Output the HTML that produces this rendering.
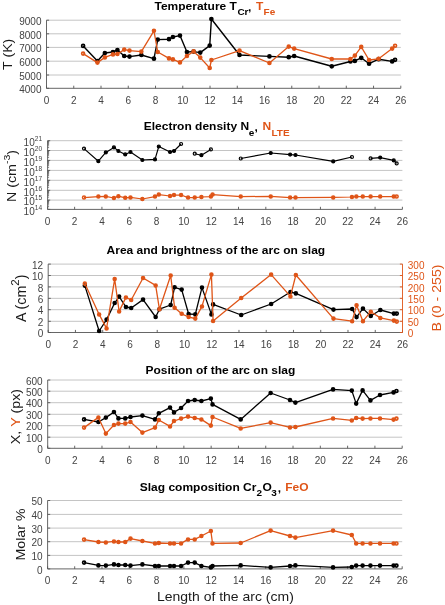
<!DOCTYPE html>
<html><head><meta charset="utf-8"><style>
html,body{margin:0;padding:0;background:#fff;}
svg{display:block;filter:blur(0.5px);}
text{font-family:"Liberation Sans",sans-serif;}
.tk{font-size:10px;fill:#444444;}
.sup{font-size:6.6px;}
.sup2{font-size:10.5px;}
.ti{font-size:12px;font-weight:bold;fill:#000;}
.sub{font-size:10px;}
.yl{font-size:14.2px;fill:#1a1a1a;}
</style></head><body>
<svg width="445" height="605" viewBox="0 0 445 605">
<rect width="445" height="605" fill="#fff"/>
<line x1="46.50" y1="75.00" x2="400.80" y2="75.00" stroke="#c4c4c4" stroke-width="1"/>
<line x1="46.50" y1="61.20" x2="400.80" y2="61.20" stroke="#c4c4c4" stroke-width="1"/>
<line x1="46.50" y1="47.40" x2="400.80" y2="47.40" stroke="#c4c4c4" stroke-width="1"/>
<line x1="46.50" y1="33.80" x2="400.80" y2="33.80" stroke="#c4c4c4" stroke-width="1"/>
<line x1="46.50" y1="20.20" x2="400.80" y2="20.20" stroke="#c4c4c4" stroke-width="1"/>
<line x1="46.50" y1="88.30" x2="400.80" y2="88.30" stroke="#555555" stroke-width="0.9"/>
<line x1="46.50" y1="88.30" x2="46.50" y2="20.20" stroke="#555555" stroke-width="0.9"/>
<line x1="46.50" y1="88.30" x2="46.50" y2="85.70" stroke="#555555" stroke-width="0.9"/>
<text x="46.50" y="103.60" class="tk" text-anchor="middle">0</text>
<line x1="73.75" y1="88.30" x2="73.75" y2="85.70" stroke="#555555" stroke-width="0.9"/>
<text x="73.75" y="103.60" class="tk" text-anchor="middle">2</text>
<line x1="101.01" y1="88.30" x2="101.01" y2="85.70" stroke="#555555" stroke-width="0.9"/>
<text x="101.01" y="103.60" class="tk" text-anchor="middle">4</text>
<line x1="128.26" y1="88.30" x2="128.26" y2="85.70" stroke="#555555" stroke-width="0.9"/>
<text x="128.26" y="103.60" class="tk" text-anchor="middle">6</text>
<line x1="155.52" y1="88.30" x2="155.52" y2="85.70" stroke="#555555" stroke-width="0.9"/>
<text x="155.52" y="103.60" class="tk" text-anchor="middle">8</text>
<line x1="182.77" y1="88.30" x2="182.77" y2="85.70" stroke="#555555" stroke-width="0.9"/>
<text x="182.77" y="103.60" class="tk" text-anchor="middle">10</text>
<line x1="210.02" y1="88.30" x2="210.02" y2="85.70" stroke="#555555" stroke-width="0.9"/>
<text x="210.02" y="103.60" class="tk" text-anchor="middle">12</text>
<line x1="237.28" y1="88.30" x2="237.28" y2="85.70" stroke="#555555" stroke-width="0.9"/>
<text x="237.28" y="103.60" class="tk" text-anchor="middle">14</text>
<line x1="264.53" y1="88.30" x2="264.53" y2="85.70" stroke="#555555" stroke-width="0.9"/>
<text x="264.53" y="103.60" class="tk" text-anchor="middle">16</text>
<line x1="291.78" y1="88.30" x2="291.78" y2="85.70" stroke="#555555" stroke-width="0.9"/>
<text x="291.78" y="103.60" class="tk" text-anchor="middle">18</text>
<line x1="319.04" y1="88.30" x2="319.04" y2="85.70" stroke="#555555" stroke-width="0.9"/>
<text x="319.04" y="103.60" class="tk" text-anchor="middle">20</text>
<line x1="346.29" y1="88.30" x2="346.29" y2="85.70" stroke="#555555" stroke-width="0.9"/>
<text x="346.29" y="103.60" class="tk" text-anchor="middle">22</text>
<line x1="373.55" y1="88.30" x2="373.55" y2="85.70" stroke="#555555" stroke-width="0.9"/>
<text x="373.55" y="103.60" class="tk" text-anchor="middle">24</text>
<line x1="400.80" y1="88.30" x2="400.80" y2="85.70" stroke="#555555" stroke-width="0.9"/>
<text x="400.80" y="103.60" class="tk" text-anchor="middle">26</text>
<line x1="46.50" y1="88.30" x2="49.10" y2="88.30" stroke="#555555" stroke-width="0.9"/>
<line x1="46.50" y1="75.00" x2="49.10" y2="75.00" stroke="#555555" stroke-width="0.9"/>
<line x1="46.50" y1="61.20" x2="49.10" y2="61.20" stroke="#555555" stroke-width="0.9"/>
<line x1="46.50" y1="47.40" x2="49.10" y2="47.40" stroke="#555555" stroke-width="0.9"/>
<line x1="46.50" y1="33.80" x2="49.10" y2="33.80" stroke="#555555" stroke-width="0.9"/>
<line x1="46.50" y1="20.20" x2="49.10" y2="20.20" stroke="#555555" stroke-width="0.9"/>
<text x="41.50" y="93.00" class="tk" text-anchor="end">4000</text>
<text x="41.50" y="79.70" class="tk" text-anchor="end">5000</text>
<text x="41.50" y="65.90" class="tk" text-anchor="end">6000</text>
<text x="41.50" y="52.10" class="tk" text-anchor="end">7000</text>
<text x="41.50" y="38.50" class="tk" text-anchor="end">8000</text>
<text x="41.50" y="24.90" class="tk" text-anchor="end">9000</text>
<path d="M83.12,45.90 L97.44,61.00 L104.87,53.00 L112.97,52.00 L117.43,50.00 L124.23,56.00 L129.49,56.60 L141.36,55.00 L153.95,58.70 L157.75,39.60 L168.98,39.20 L172.91,37.00 L179.97,35.60 L186.93,52.00 L193.60,51.60 L200.26,52.60 L209.72,45.60 L211.39,19.00 L239.51,55.00 L269.43,56.40 L288.75,57.20 L294.15,56.00 L331.77,66.30 L350.46,61.50 L354.86,60.90 L361.25,57.80 L369.08,63.70 L378.64,59.20 L392.17,61.40 L395.07,59.80" fill="none" stroke="#000000" stroke-width="1.4" stroke-linejoin="round"/>
<circle cx="83.12" cy="45.90" r="1.5" fill="none" stroke="#000000" stroke-width="1.7"/>
<circle cx="97.44" cy="61.00" r="1.5" fill="#000000" stroke="#000000" stroke-width="1.7"/>
<circle cx="104.87" cy="53.00" r="1.5" fill="#000000" stroke="#000000" stroke-width="1.7"/>
<circle cx="112.97" cy="52.00" r="1.5" fill="#000000" stroke="#000000" stroke-width="1.7"/>
<circle cx="117.43" cy="50.00" r="1.5" fill="#000000" stroke="#000000" stroke-width="1.7"/>
<circle cx="124.23" cy="56.00" r="1.5" fill="#000000" stroke="#000000" stroke-width="1.7"/>
<circle cx="129.49" cy="56.60" r="1.5" fill="#000000" stroke="#000000" stroke-width="1.7"/>
<circle cx="141.36" cy="55.00" r="1.5" fill="#000000" stroke="#000000" stroke-width="1.7"/>
<circle cx="153.95" cy="58.70" r="1.5" fill="#000000" stroke="#000000" stroke-width="1.7"/>
<circle cx="157.75" cy="39.60" r="1.5" fill="#000000" stroke="#000000" stroke-width="1.7"/>
<circle cx="168.98" cy="39.20" r="1.5" fill="#000000" stroke="#000000" stroke-width="1.7"/>
<circle cx="172.91" cy="37.00" r="1.5" fill="#000000" stroke="#000000" stroke-width="1.7"/>
<circle cx="179.97" cy="35.60" r="1.5" fill="#000000" stroke="#000000" stroke-width="1.7"/>
<circle cx="186.93" cy="52.00" r="1.5" fill="#000000" stroke="#000000" stroke-width="1.7"/>
<circle cx="193.60" cy="51.60" r="1.5" fill="#000000" stroke="#000000" stroke-width="1.7"/>
<circle cx="200.26" cy="52.60" r="1.5" fill="#000000" stroke="#000000" stroke-width="1.7"/>
<circle cx="209.72" cy="45.60" r="1.5" fill="#000000" stroke="#000000" stroke-width="1.7"/>
<circle cx="211.39" cy="19.00" r="1.5" fill="#000000" stroke="#000000" stroke-width="1.7"/>
<circle cx="239.51" cy="55.00" r="1.5" fill="#000000" stroke="#000000" stroke-width="1.7"/>
<circle cx="269.43" cy="56.40" r="1.5" fill="#000000" stroke="#000000" stroke-width="1.7"/>
<circle cx="288.75" cy="57.20" r="1.5" fill="#000000" stroke="#000000" stroke-width="1.7"/>
<circle cx="294.15" cy="56.00" r="1.5" fill="#000000" stroke="#000000" stroke-width="1.7"/>
<circle cx="331.77" cy="66.30" r="1.5" fill="#000000" stroke="#000000" stroke-width="1.7"/>
<circle cx="350.46" cy="61.50" r="1.5" fill="#000000" stroke="#000000" stroke-width="1.7"/>
<circle cx="354.86" cy="60.90" r="1.5" fill="#000000" stroke="#000000" stroke-width="1.7"/>
<circle cx="361.25" cy="57.80" r="1.5" fill="#000000" stroke="#000000" stroke-width="1.7"/>
<circle cx="369.08" cy="63.70" r="1.5" fill="#000000" stroke="#000000" stroke-width="1.7"/>
<circle cx="378.64" cy="59.20" r="1.5" fill="#000000" stroke="#000000" stroke-width="1.7"/>
<circle cx="392.17" cy="61.40" r="1.5" fill="#000000" stroke="#000000" stroke-width="1.7"/>
<circle cx="395.07" cy="59.80" r="1.5" fill="none" stroke="#000000" stroke-width="1.7"/>
<path d="M83.12,53.60 L97.44,62.60 L104.87,57.40 L112.97,54.40 L117.43,54.00 L124.23,49.60 L129.49,50.60 L141.36,51.60 L153.95,30.80 L157.75,52.00 L168.98,58.40 L172.91,59.40 L179.97,62.40 L186.93,56.00 L193.60,51.40 L200.26,57.60 L209.72,68.00 L211.39,60.00 L239.51,50.60 L269.43,63.00 L288.75,46.60 L294.15,48.60 L331.77,59.00 L350.46,59.00 L354.86,55.60 L361.25,46.90 L369.08,60.00 L378.64,58.80 L392.17,48.60 L395.07,45.80" fill="none" stroke="#DF5518" stroke-width="1.3" stroke-linejoin="round"/>
<circle cx="83.12" cy="53.60" r="1.5" fill="none" stroke="#DF5518" stroke-width="1.6"/>
<circle cx="97.44" cy="62.60" r="1.5" fill="#DF5518" stroke="#DF5518" stroke-width="1.6"/>
<circle cx="104.87" cy="57.40" r="1.5" fill="#DF5518" stroke="#DF5518" stroke-width="1.6"/>
<circle cx="112.97" cy="54.40" r="1.5" fill="#DF5518" stroke="#DF5518" stroke-width="1.6"/>
<circle cx="117.43" cy="54.00" r="1.5" fill="#DF5518" stroke="#DF5518" stroke-width="1.6"/>
<circle cx="124.23" cy="49.60" r="1.5" fill="#DF5518" stroke="#DF5518" stroke-width="1.6"/>
<circle cx="129.49" cy="50.60" r="1.5" fill="#DF5518" stroke="#DF5518" stroke-width="1.6"/>
<circle cx="141.36" cy="51.60" r="1.5" fill="#DF5518" stroke="#DF5518" stroke-width="1.6"/>
<circle cx="153.95" cy="30.80" r="1.5" fill="#DF5518" stroke="#DF5518" stroke-width="1.6"/>
<circle cx="157.75" cy="52.00" r="1.5" fill="#DF5518" stroke="#DF5518" stroke-width="1.6"/>
<circle cx="168.98" cy="58.40" r="1.5" fill="#DF5518" stroke="#DF5518" stroke-width="1.6"/>
<circle cx="172.91" cy="59.40" r="1.5" fill="#DF5518" stroke="#DF5518" stroke-width="1.6"/>
<circle cx="179.97" cy="62.40" r="1.5" fill="#DF5518" stroke="#DF5518" stroke-width="1.6"/>
<circle cx="186.93" cy="56.00" r="1.5" fill="#DF5518" stroke="#DF5518" stroke-width="1.6"/>
<circle cx="193.60" cy="51.40" r="1.5" fill="#DF5518" stroke="#DF5518" stroke-width="1.6"/>
<circle cx="200.26" cy="57.60" r="1.5" fill="#DF5518" stroke="#DF5518" stroke-width="1.6"/>
<circle cx="209.72" cy="68.00" r="1.5" fill="#DF5518" stroke="#DF5518" stroke-width="1.6"/>
<circle cx="211.39" cy="60.00" r="1.5" fill="#DF5518" stroke="#DF5518" stroke-width="1.6"/>
<circle cx="239.51" cy="50.60" r="1.5" fill="#DF5518" stroke="#DF5518" stroke-width="1.6"/>
<circle cx="269.43" cy="63.00" r="1.5" fill="#DF5518" stroke="#DF5518" stroke-width="1.6"/>
<circle cx="288.75" cy="46.60" r="1.5" fill="#DF5518" stroke="#DF5518" stroke-width="1.6"/>
<circle cx="294.15" cy="48.60" r="1.5" fill="#DF5518" stroke="#DF5518" stroke-width="1.6"/>
<circle cx="331.77" cy="59.00" r="1.5" fill="#DF5518" stroke="#DF5518" stroke-width="1.6"/>
<circle cx="350.46" cy="59.00" r="1.5" fill="#DF5518" stroke="#DF5518" stroke-width="1.6"/>
<circle cx="354.86" cy="55.60" r="1.5" fill="#DF5518" stroke="#DF5518" stroke-width="1.6"/>
<circle cx="361.25" cy="46.90" r="1.5" fill="#DF5518" stroke="#DF5518" stroke-width="1.6"/>
<circle cx="369.08" cy="60.00" r="1.5" fill="#DF5518" stroke="#DF5518" stroke-width="1.6"/>
<circle cx="378.64" cy="58.80" r="1.5" fill="#DF5518" stroke="#DF5518" stroke-width="1.6"/>
<circle cx="392.17" cy="48.60" r="1.5" fill="#DF5518" stroke="#DF5518" stroke-width="1.6"/>
<circle cx="395.07" cy="45.80" r="1.5" fill="none" stroke="#DF5518" stroke-width="1.6"/>
<text x="154.5" y="10.0" class="ti " transform="matrix(1,0,0,0.93,0,0.700)">Temperature T</text><text x="237.4" y="15.5" class="ti sub" transform="matrix(1,0,0,0.93,0,1.085)">Cr</text><text x="248.0" y="10.6" class="ti " transform="matrix(1,0,0,0.93,0,0.742)">,</text><text x="255.9" y="10.0" class="ti " style="fill:#DF5518" transform="matrix(1,0,0,0.93,0,0.700)">T</text><text x="263.6" y="15.5" class="ti sub" style="fill:#DF5518" transform="matrix(1,0,0,0.93,0,1.085)">Fe</text>
<text class="yl" transform="translate(12.2,69.9) rotate(-90) scale(1,0.95)">T (K)</text>
<line x1="47.60" y1="200.10" x2="402.40" y2="200.10" stroke="#c4c4c4" stroke-width="1"/>
<line x1="47.60" y1="190.30" x2="402.40" y2="190.30" stroke="#c4c4c4" stroke-width="1"/>
<line x1="47.60" y1="180.30" x2="402.40" y2="180.30" stroke="#c4c4c4" stroke-width="1"/>
<line x1="47.60" y1="170.40" x2="402.40" y2="170.40" stroke="#c4c4c4" stroke-width="1"/>
<line x1="47.60" y1="160.40" x2="402.40" y2="160.40" stroke="#c4c4c4" stroke-width="1"/>
<line x1="47.60" y1="150.50" x2="402.40" y2="150.50" stroke="#c4c4c4" stroke-width="1"/>
<line x1="47.60" y1="140.70" x2="402.40" y2="140.70" stroke="#c4c4c4" stroke-width="1"/>
<line x1="47.60" y1="209.40" x2="402.40" y2="209.40" stroke="#555555" stroke-width="0.9"/>
<line x1="47.60" y1="209.40" x2="47.60" y2="140.70" stroke="#555555" stroke-width="0.9"/>
<line x1="47.60" y1="209.40" x2="47.60" y2="206.80" stroke="#555555" stroke-width="0.9"/>
<text x="47.60" y="224.70" class="tk" text-anchor="middle">0</text>
<line x1="74.62" y1="209.40" x2="74.62" y2="206.80" stroke="#555555" stroke-width="0.9"/>
<text x="74.62" y="224.70" class="tk" text-anchor="middle">2</text>
<line x1="101.93" y1="209.40" x2="101.93" y2="206.80" stroke="#555555" stroke-width="0.9"/>
<text x="101.93" y="224.70" class="tk" text-anchor="middle">4</text>
<line x1="129.25" y1="209.40" x2="129.25" y2="206.80" stroke="#555555" stroke-width="0.9"/>
<text x="129.25" y="224.70" class="tk" text-anchor="middle">6</text>
<line x1="156.56" y1="209.40" x2="156.56" y2="206.80" stroke="#555555" stroke-width="0.9"/>
<text x="156.56" y="224.70" class="tk" text-anchor="middle">8</text>
<line x1="183.88" y1="209.40" x2="183.88" y2="206.80" stroke="#555555" stroke-width="0.9"/>
<text x="183.88" y="224.70" class="tk" text-anchor="middle">10</text>
<line x1="211.19" y1="209.40" x2="211.19" y2="206.80" stroke="#555555" stroke-width="0.9"/>
<text x="211.19" y="224.70" class="tk" text-anchor="middle">12</text>
<line x1="238.51" y1="209.40" x2="238.51" y2="206.80" stroke="#555555" stroke-width="0.9"/>
<text x="238.51" y="224.70" class="tk" text-anchor="middle">14</text>
<line x1="265.82" y1="209.40" x2="265.82" y2="206.80" stroke="#555555" stroke-width="0.9"/>
<text x="265.82" y="224.70" class="tk" text-anchor="middle">16</text>
<line x1="293.14" y1="209.40" x2="293.14" y2="206.80" stroke="#555555" stroke-width="0.9"/>
<text x="293.14" y="224.70" class="tk" text-anchor="middle">18</text>
<line x1="320.45" y1="209.40" x2="320.45" y2="206.80" stroke="#555555" stroke-width="0.9"/>
<text x="320.45" y="224.70" class="tk" text-anchor="middle">20</text>
<line x1="347.77" y1="209.40" x2="347.77" y2="206.80" stroke="#555555" stroke-width="0.9"/>
<text x="347.77" y="224.70" class="tk" text-anchor="middle">22</text>
<line x1="375.08" y1="209.40" x2="375.08" y2="206.80" stroke="#555555" stroke-width="0.9"/>
<text x="375.08" y="224.70" class="tk" text-anchor="middle">24</text>
<line x1="402.40" y1="209.40" x2="402.40" y2="206.80" stroke="#555555" stroke-width="0.9"/>
<text x="402.40" y="224.70" class="tk" text-anchor="middle">26</text>
<line x1="47.60" y1="209.40" x2="50.20" y2="209.40" stroke="#555555" stroke-width="0.9"/>
<line x1="47.60" y1="200.10" x2="50.20" y2="200.10" stroke="#555555" stroke-width="0.9"/>
<line x1="47.60" y1="190.30" x2="50.20" y2="190.30" stroke="#555555" stroke-width="0.9"/>
<line x1="47.60" y1="180.30" x2="50.20" y2="180.30" stroke="#555555" stroke-width="0.9"/>
<line x1="47.60" y1="170.40" x2="50.20" y2="170.40" stroke="#555555" stroke-width="0.9"/>
<line x1="47.60" y1="160.40" x2="50.20" y2="160.40" stroke="#555555" stroke-width="0.9"/>
<line x1="47.60" y1="150.50" x2="50.20" y2="150.50" stroke="#555555" stroke-width="0.9"/>
<line x1="47.60" y1="140.70" x2="50.20" y2="140.70" stroke="#555555" stroke-width="0.9"/>
<line x1="47.60" y1="206.60" x2="49.10" y2="206.60" stroke="#555555" stroke-width="0.7"/>
<line x1="47.60" y1="204.96" x2="49.10" y2="204.96" stroke="#555555" stroke-width="0.7"/>
<line x1="47.60" y1="203.80" x2="49.10" y2="203.80" stroke="#555555" stroke-width="0.7"/>
<line x1="47.60" y1="202.90" x2="49.10" y2="202.90" stroke="#555555" stroke-width="0.7"/>
<line x1="47.60" y1="202.16" x2="49.10" y2="202.16" stroke="#555555" stroke-width="0.7"/>
<line x1="47.60" y1="201.54" x2="49.10" y2="201.54" stroke="#555555" stroke-width="0.7"/>
<line x1="47.60" y1="201.00" x2="49.10" y2="201.00" stroke="#555555" stroke-width="0.7"/>
<line x1="47.60" y1="200.53" x2="49.10" y2="200.53" stroke="#555555" stroke-width="0.7"/>
<line x1="47.60" y1="197.15" x2="49.10" y2="197.15" stroke="#555555" stroke-width="0.7"/>
<line x1="47.60" y1="195.42" x2="49.10" y2="195.42" stroke="#555555" stroke-width="0.7"/>
<line x1="47.60" y1="194.20" x2="49.10" y2="194.20" stroke="#555555" stroke-width="0.7"/>
<line x1="47.60" y1="193.25" x2="49.10" y2="193.25" stroke="#555555" stroke-width="0.7"/>
<line x1="47.60" y1="192.47" x2="49.10" y2="192.47" stroke="#555555" stroke-width="0.7"/>
<line x1="47.60" y1="191.82" x2="49.10" y2="191.82" stroke="#555555" stroke-width="0.7"/>
<line x1="47.60" y1="191.25" x2="49.10" y2="191.25" stroke="#555555" stroke-width="0.7"/>
<line x1="47.60" y1="190.75" x2="49.10" y2="190.75" stroke="#555555" stroke-width="0.7"/>
<line x1="47.60" y1="187.29" x2="49.10" y2="187.29" stroke="#555555" stroke-width="0.7"/>
<line x1="47.60" y1="185.53" x2="49.10" y2="185.53" stroke="#555555" stroke-width="0.7"/>
<line x1="47.60" y1="184.28" x2="49.10" y2="184.28" stroke="#555555" stroke-width="0.7"/>
<line x1="47.60" y1="183.31" x2="49.10" y2="183.31" stroke="#555555" stroke-width="0.7"/>
<line x1="47.60" y1="182.52" x2="49.10" y2="182.52" stroke="#555555" stroke-width="0.7"/>
<line x1="47.60" y1="181.85" x2="49.10" y2="181.85" stroke="#555555" stroke-width="0.7"/>
<line x1="47.60" y1="181.27" x2="49.10" y2="181.27" stroke="#555555" stroke-width="0.7"/>
<line x1="47.60" y1="180.76" x2="49.10" y2="180.76" stroke="#555555" stroke-width="0.7"/>
<line x1="47.60" y1="177.32" x2="49.10" y2="177.32" stroke="#555555" stroke-width="0.7"/>
<line x1="47.60" y1="175.58" x2="49.10" y2="175.58" stroke="#555555" stroke-width="0.7"/>
<line x1="47.60" y1="174.34" x2="49.10" y2="174.34" stroke="#555555" stroke-width="0.7"/>
<line x1="47.60" y1="173.38" x2="49.10" y2="173.38" stroke="#555555" stroke-width="0.7"/>
<line x1="47.60" y1="172.60" x2="49.10" y2="172.60" stroke="#555555" stroke-width="0.7"/>
<line x1="47.60" y1="171.93" x2="49.10" y2="171.93" stroke="#555555" stroke-width="0.7"/>
<line x1="47.60" y1="171.36" x2="49.10" y2="171.36" stroke="#555555" stroke-width="0.7"/>
<line x1="47.60" y1="170.85" x2="49.10" y2="170.85" stroke="#555555" stroke-width="0.7"/>
<line x1="47.60" y1="167.39" x2="49.10" y2="167.39" stroke="#555555" stroke-width="0.7"/>
<line x1="47.60" y1="165.63" x2="49.10" y2="165.63" stroke="#555555" stroke-width="0.7"/>
<line x1="47.60" y1="164.38" x2="49.10" y2="164.38" stroke="#555555" stroke-width="0.7"/>
<line x1="47.60" y1="163.41" x2="49.10" y2="163.41" stroke="#555555" stroke-width="0.7"/>
<line x1="47.60" y1="162.62" x2="49.10" y2="162.62" stroke="#555555" stroke-width="0.7"/>
<line x1="47.60" y1="161.95" x2="49.10" y2="161.95" stroke="#555555" stroke-width="0.7"/>
<line x1="47.60" y1="161.37" x2="49.10" y2="161.37" stroke="#555555" stroke-width="0.7"/>
<line x1="47.60" y1="160.86" x2="49.10" y2="160.86" stroke="#555555" stroke-width="0.7"/>
<line x1="47.60" y1="157.42" x2="49.10" y2="157.42" stroke="#555555" stroke-width="0.7"/>
<line x1="47.60" y1="155.68" x2="49.10" y2="155.68" stroke="#555555" stroke-width="0.7"/>
<line x1="47.60" y1="154.44" x2="49.10" y2="154.44" stroke="#555555" stroke-width="0.7"/>
<line x1="47.60" y1="153.48" x2="49.10" y2="153.48" stroke="#555555" stroke-width="0.7"/>
<line x1="47.60" y1="152.70" x2="49.10" y2="152.70" stroke="#555555" stroke-width="0.7"/>
<line x1="47.60" y1="152.03" x2="49.10" y2="152.03" stroke="#555555" stroke-width="0.7"/>
<line x1="47.60" y1="151.46" x2="49.10" y2="151.46" stroke="#555555" stroke-width="0.7"/>
<line x1="47.60" y1="150.95" x2="49.10" y2="150.95" stroke="#555555" stroke-width="0.7"/>
<line x1="47.60" y1="147.55" x2="49.10" y2="147.55" stroke="#555555" stroke-width="0.7"/>
<line x1="47.60" y1="145.82" x2="49.10" y2="145.82" stroke="#555555" stroke-width="0.7"/>
<line x1="47.60" y1="144.60" x2="49.10" y2="144.60" stroke="#555555" stroke-width="0.7"/>
<line x1="47.60" y1="143.65" x2="49.10" y2="143.65" stroke="#555555" stroke-width="0.7"/>
<line x1="47.60" y1="142.87" x2="49.10" y2="142.87" stroke="#555555" stroke-width="0.7"/>
<line x1="47.60" y1="142.22" x2="49.10" y2="142.22" stroke="#555555" stroke-width="0.7"/>
<line x1="47.60" y1="141.65" x2="49.10" y2="141.65" stroke="#555555" stroke-width="0.7"/>
<line x1="47.60" y1="141.15" x2="49.10" y2="141.15" stroke="#555555" stroke-width="0.7"/>
<text x="23.60" y="214.60" class="tk">10<tspan class="sup" dy="-5">14</tspan></text>
<text x="23.60" y="205.30" class="tk">10<tspan class="sup" dy="-5">15</tspan></text>
<text x="23.60" y="195.50" class="tk">10<tspan class="sup" dy="-5">16</tspan></text>
<text x="23.60" y="185.50" class="tk">10<tspan class="sup" dy="-5">17</tspan></text>
<text x="23.60" y="175.60" class="tk">10<tspan class="sup" dy="-5">18</tspan></text>
<text x="23.60" y="165.60" class="tk">10<tspan class="sup" dy="-5">19</tspan></text>
<text x="23.60" y="155.70" class="tk">10<tspan class="sup" dy="-5">20</tspan></text>
<text x="23.60" y="145.90" class="tk">10<tspan class="sup" dy="-5">21</tspan></text>
<path d="M84.00,148.60 L98.36,161.20 L105.80,152.40 L113.92,147.40 L118.39,151.00 L125.21,154.40 L130.48,152.00 L142.37,160.00 L154.99,159.40 L158.80,146.50 L170.05,152.00 L173.99,151.00 L181.07,144.00" fill="none" stroke="#000000" stroke-width="1.15" stroke-linejoin="round"/>
<path d="M194.73,153.70 L201.41,155.20 L210.89,149.40" fill="none" stroke="#000000" stroke-width="1.15" stroke-linejoin="round"/>
<path d="M240.75,158.50 L270.73,153.00 L290.10,154.60 L295.51,155.00 L333.21,161.40 L351.94,157.00" fill="none" stroke="#000000" stroke-width="1.15" stroke-linejoin="round"/>
<path d="M370.61,158.40 L380.19,157.60 L393.75,160.40 L396.66,163.40" fill="none" stroke="#000000" stroke-width="1.15" stroke-linejoin="round"/>
<circle cx="84.00" cy="148.60" r="1.5" fill="none" stroke="#000000" stroke-width="1.2"/>
<circle cx="98.36" cy="161.20" r="1.5" fill="#000000" stroke="#000000" stroke-width="1.2"/>
<circle cx="105.80" cy="152.40" r="1.5" fill="#000000" stroke="#000000" stroke-width="1.2"/>
<circle cx="113.92" cy="147.40" r="1.5" fill="#000000" stroke="#000000" stroke-width="1.2"/>
<circle cx="118.39" cy="151.00" r="1.5" fill="#000000" stroke="#000000" stroke-width="1.2"/>
<circle cx="125.21" cy="154.40" r="1.5" fill="#000000" stroke="#000000" stroke-width="1.2"/>
<circle cx="130.48" cy="152.00" r="1.5" fill="#000000" stroke="#000000" stroke-width="1.2"/>
<circle cx="142.37" cy="160.00" r="1.5" fill="#000000" stroke="#000000" stroke-width="1.2"/>
<circle cx="154.99" cy="159.40" r="1.5" fill="#000000" stroke="#000000" stroke-width="1.2"/>
<circle cx="158.80" cy="146.50" r="1.5" fill="#000000" stroke="#000000" stroke-width="1.2"/>
<circle cx="170.05" cy="152.00" r="1.5" fill="#000000" stroke="#000000" stroke-width="1.2"/>
<circle cx="173.99" cy="151.00" r="1.5" fill="#000000" stroke="#000000" stroke-width="1.2"/>
<circle cx="181.07" cy="144.00" r="1.5" fill="none" stroke="#000000" stroke-width="1.2"/>
<circle cx="194.73" cy="153.70" r="1.5" fill="none" stroke="#000000" stroke-width="1.2"/>
<circle cx="201.41" cy="155.20" r="1.5" fill="#000000" stroke="#000000" stroke-width="1.2"/>
<circle cx="210.89" cy="149.40" r="1.5" fill="none" stroke="#000000" stroke-width="1.2"/>
<circle cx="240.75" cy="158.50" r="1.5" fill="none" stroke="#000000" stroke-width="1.2"/>
<circle cx="270.73" cy="153.00" r="1.5" fill="#000000" stroke="#000000" stroke-width="1.2"/>
<circle cx="290.10" cy="154.60" r="1.5" fill="#000000" stroke="#000000" stroke-width="1.2"/>
<circle cx="295.51" cy="155.00" r="1.5" fill="#000000" stroke="#000000" stroke-width="1.2"/>
<circle cx="333.21" cy="161.40" r="1.5" fill="#000000" stroke="#000000" stroke-width="1.2"/>
<circle cx="351.94" cy="157.00" r="1.5" fill="none" stroke="#000000" stroke-width="1.2"/>
<circle cx="370.61" cy="158.40" r="1.5" fill="none" stroke="#000000" stroke-width="1.2"/>
<circle cx="380.19" cy="157.60" r="1.5" fill="#000000" stroke="#000000" stroke-width="1.2"/>
<circle cx="393.75" cy="160.40" r="1.5" fill="#000000" stroke="#000000" stroke-width="1.2"/>
<circle cx="396.66" cy="163.40" r="1.5" fill="none" stroke="#000000" stroke-width="1.2"/>
<path d="M84.00,197.60 L98.36,196.60 L105.80,196.40 L113.92,198.00 L118.39,196.20 L125.21,197.80 L130.48,197.40 L142.37,199.00 L154.99,196.60 L158.80,194.60 L170.05,196.00 L173.99,195.00 L181.07,195.00 L188.05,197.60 L194.73,197.60 L201.41,197.00 L210.89,196.60 L212.56,194.60 L240.75,196.60 L270.73,196.40 L290.10,197.60 L295.51,197.60 L333.21,197.40 L351.94,197.00 L356.35,196.60 L362.76,196.60 L370.61,196.60 L380.19,196.60 L393.75,196.60 L396.66,196.60" fill="none" stroke="#DF5518" stroke-width="1.25" stroke-linejoin="round"/>
<circle cx="84.00" cy="197.60" r="1.5" fill="none" stroke="#DF5518" stroke-width="1.5"/>
<circle cx="98.36" cy="196.60" r="1.5" fill="#DF5518" stroke="#DF5518" stroke-width="1.5"/>
<circle cx="105.80" cy="196.40" r="1.5" fill="#DF5518" stroke="#DF5518" stroke-width="1.5"/>
<circle cx="113.92" cy="198.00" r="1.5" fill="#DF5518" stroke="#DF5518" stroke-width="1.5"/>
<circle cx="118.39" cy="196.20" r="1.5" fill="#DF5518" stroke="#DF5518" stroke-width="1.5"/>
<circle cx="125.21" cy="197.80" r="1.5" fill="#DF5518" stroke="#DF5518" stroke-width="1.5"/>
<circle cx="130.48" cy="197.40" r="1.5" fill="#DF5518" stroke="#DF5518" stroke-width="1.5"/>
<circle cx="142.37" cy="199.00" r="1.5" fill="#DF5518" stroke="#DF5518" stroke-width="1.5"/>
<circle cx="154.99" cy="196.60" r="1.5" fill="#DF5518" stroke="#DF5518" stroke-width="1.5"/>
<circle cx="158.80" cy="194.60" r="1.5" fill="#DF5518" stroke="#DF5518" stroke-width="1.5"/>
<circle cx="170.05" cy="196.00" r="1.5" fill="#DF5518" stroke="#DF5518" stroke-width="1.5"/>
<circle cx="173.99" cy="195.00" r="1.5" fill="#DF5518" stroke="#DF5518" stroke-width="1.5"/>
<circle cx="181.07" cy="195.00" r="1.5" fill="#DF5518" stroke="#DF5518" stroke-width="1.5"/>
<circle cx="188.05" cy="197.60" r="1.5" fill="#DF5518" stroke="#DF5518" stroke-width="1.5"/>
<circle cx="194.73" cy="197.60" r="1.5" fill="#DF5518" stroke="#DF5518" stroke-width="1.5"/>
<circle cx="201.41" cy="197.00" r="1.5" fill="#DF5518" stroke="#DF5518" stroke-width="1.5"/>
<circle cx="210.89" cy="196.60" r="1.5" fill="#DF5518" stroke="#DF5518" stroke-width="1.5"/>
<circle cx="212.56" cy="194.60" r="1.5" fill="#DF5518" stroke="#DF5518" stroke-width="1.5"/>
<circle cx="240.75" cy="196.60" r="1.5" fill="#DF5518" stroke="#DF5518" stroke-width="1.5"/>
<circle cx="270.73" cy="196.40" r="1.5" fill="#DF5518" stroke="#DF5518" stroke-width="1.5"/>
<circle cx="290.10" cy="197.60" r="1.5" fill="#DF5518" stroke="#DF5518" stroke-width="1.5"/>
<circle cx="295.51" cy="197.60" r="1.5" fill="#DF5518" stroke="#DF5518" stroke-width="1.5"/>
<circle cx="333.21" cy="197.40" r="1.5" fill="#DF5518" stroke="#DF5518" stroke-width="1.5"/>
<circle cx="351.94" cy="197.00" r="1.5" fill="#DF5518" stroke="#DF5518" stroke-width="1.5"/>
<circle cx="356.35" cy="196.60" r="1.5" fill="#DF5518" stroke="#DF5518" stroke-width="1.5"/>
<circle cx="362.76" cy="196.60" r="1.5" fill="#DF5518" stroke="#DF5518" stroke-width="1.5"/>
<circle cx="370.61" cy="196.60" r="1.5" fill="#DF5518" stroke="#DF5518" stroke-width="1.5"/>
<circle cx="380.19" cy="196.60" r="1.5" fill="#DF5518" stroke="#DF5518" stroke-width="1.5"/>
<circle cx="393.75" cy="196.60" r="1.5" fill="#DF5518" stroke="#DF5518" stroke-width="1.5"/>
<circle cx="396.66" cy="196.60" r="1.5" fill="none" stroke="#DF5518" stroke-width="1.5"/>
<text x="143.8" y="130.4" class="ti " transform="matrix(1,0,0,0.93,0,9.128)">Electron density N</text><text x="248.8" y="135.9" class="ti sub" transform="matrix(1,0,0,0.93,0,9.513)">e</text><text x="254.4" y="131.0" class="ti " transform="matrix(1,0,0,0.93,0,9.170)">,</text><text x="262.4" y="130.4" class="ti " style="fill:#DF5518" transform="matrix(1,0,0,0.93,0,9.128)">N</text><text x="271.5" y="135.9" class="ti sub" style="fill:#DF5518" transform="matrix(1,0,0,0.93,0,9.513)">LTE</text>
<text class="yl" transform="translate(16.1,201.9) rotate(-90) scale(1,0.95)">N (cm<tspan class="sup2" dy="-6.3">-3</tspan><tspan dy="6.3">)</tspan></text>
<line x1="48.20" y1="321.30" x2="402.50" y2="321.30" stroke="#c4c4c4" stroke-width="1"/>
<line x1="48.20" y1="309.70" x2="402.50" y2="309.70" stroke="#c4c4c4" stroke-width="1"/>
<line x1="48.20" y1="298.35" x2="402.50" y2="298.35" stroke="#c4c4c4" stroke-width="1"/>
<line x1="48.20" y1="286.90" x2="402.50" y2="286.90" stroke="#c4c4c4" stroke-width="1"/>
<line x1="48.20" y1="275.50" x2="402.50" y2="275.50" stroke="#c4c4c4" stroke-width="1"/>
<line x1="48.20" y1="264.10" x2="402.50" y2="264.10" stroke="#c4c4c4" stroke-width="1"/>
<line x1="48.20" y1="332.50" x2="402.50" y2="332.50" stroke="#555555" stroke-width="0.9"/>
<line x1="48.20" y1="332.50" x2="48.20" y2="264.10" stroke="#555555" stroke-width="0.9"/>
<line x1="48.20" y1="332.50" x2="48.20" y2="329.90" stroke="#555555" stroke-width="0.9"/>
<text x="48.20" y="347.80" class="tk" text-anchor="middle">0</text>
<line x1="75.45" y1="332.50" x2="75.45" y2="329.90" stroke="#555555" stroke-width="0.9"/>
<text x="75.45" y="347.80" class="tk" text-anchor="middle">2</text>
<line x1="102.71" y1="332.50" x2="102.71" y2="329.90" stroke="#555555" stroke-width="0.9"/>
<text x="102.71" y="347.80" class="tk" text-anchor="middle">4</text>
<line x1="129.96" y1="332.50" x2="129.96" y2="329.90" stroke="#555555" stroke-width="0.9"/>
<text x="129.96" y="347.80" class="tk" text-anchor="middle">6</text>
<line x1="157.22" y1="332.50" x2="157.22" y2="329.90" stroke="#555555" stroke-width="0.9"/>
<text x="157.22" y="347.80" class="tk" text-anchor="middle">8</text>
<line x1="184.47" y1="332.50" x2="184.47" y2="329.90" stroke="#555555" stroke-width="0.9"/>
<text x="184.47" y="347.80" class="tk" text-anchor="middle">10</text>
<line x1="211.72" y1="332.50" x2="211.72" y2="329.90" stroke="#555555" stroke-width="0.9"/>
<text x="211.72" y="347.80" class="tk" text-anchor="middle">12</text>
<line x1="238.98" y1="332.50" x2="238.98" y2="329.90" stroke="#555555" stroke-width="0.9"/>
<text x="238.98" y="347.80" class="tk" text-anchor="middle">14</text>
<line x1="266.23" y1="332.50" x2="266.23" y2="329.90" stroke="#555555" stroke-width="0.9"/>
<text x="266.23" y="347.80" class="tk" text-anchor="middle">16</text>
<line x1="293.48" y1="332.50" x2="293.48" y2="329.90" stroke="#555555" stroke-width="0.9"/>
<text x="293.48" y="347.80" class="tk" text-anchor="middle">18</text>
<line x1="320.74" y1="332.50" x2="320.74" y2="329.90" stroke="#555555" stroke-width="0.9"/>
<text x="320.74" y="347.80" class="tk" text-anchor="middle">20</text>
<line x1="347.99" y1="332.50" x2="347.99" y2="329.90" stroke="#555555" stroke-width="0.9"/>
<text x="347.99" y="347.80" class="tk" text-anchor="middle">22</text>
<line x1="375.25" y1="332.50" x2="375.25" y2="329.90" stroke="#555555" stroke-width="0.9"/>
<text x="375.25" y="347.80" class="tk" text-anchor="middle">24</text>
<line x1="402.50" y1="332.50" x2="402.50" y2="329.90" stroke="#555555" stroke-width="0.9"/>
<text x="402.50" y="347.80" class="tk" text-anchor="middle">26</text>
<line x1="48.20" y1="332.50" x2="50.80" y2="332.50" stroke="#555555" stroke-width="0.9"/>
<line x1="48.20" y1="321.30" x2="50.80" y2="321.30" stroke="#555555" stroke-width="0.9"/>
<line x1="48.20" y1="309.70" x2="50.80" y2="309.70" stroke="#555555" stroke-width="0.9"/>
<line x1="48.20" y1="298.35" x2="50.80" y2="298.35" stroke="#555555" stroke-width="0.9"/>
<line x1="48.20" y1="286.90" x2="50.80" y2="286.90" stroke="#555555" stroke-width="0.9"/>
<line x1="48.20" y1="275.50" x2="50.80" y2="275.50" stroke="#555555" stroke-width="0.9"/>
<line x1="48.20" y1="264.10" x2="50.80" y2="264.10" stroke="#555555" stroke-width="0.9"/>
<text x="43.20" y="337.20" class="tk" text-anchor="end">0</text>
<text x="43.20" y="326.00" class="tk" text-anchor="end">2</text>
<text x="43.20" y="314.40" class="tk" text-anchor="end">4</text>
<text x="43.20" y="303.05" class="tk" text-anchor="end">6</text>
<text x="43.20" y="291.60" class="tk" text-anchor="end">8</text>
<text x="43.20" y="280.20" class="tk" text-anchor="end">10</text>
<text x="43.20" y="268.80" class="tk" text-anchor="end">12</text>
<line x1="402.50" y1="332.50" x2="402.50" y2="264.10" stroke="#DF5518" stroke-width="0.9"/>
<line x1="399.90" y1="332.50" x2="402.50" y2="332.50" stroke="#DF5518" stroke-width="0.9"/>
<text x="407.80" y="337.20" class="tk" style="fill:#DF5518">0</text>
<line x1="399.90" y1="321.30" x2="402.50" y2="321.30" stroke="#DF5518" stroke-width="0.9"/>
<text x="407.80" y="326.00" class="tk" style="fill:#DF5518">50</text>
<line x1="399.90" y1="309.70" x2="402.50" y2="309.70" stroke="#DF5518" stroke-width="0.9"/>
<text x="407.80" y="314.40" class="tk" style="fill:#DF5518">100</text>
<line x1="399.90" y1="298.35" x2="402.50" y2="298.35" stroke="#DF5518" stroke-width="0.9"/>
<text x="407.80" y="303.05" class="tk" style="fill:#DF5518">150</text>
<line x1="399.90" y1="286.90" x2="402.50" y2="286.90" stroke="#DF5518" stroke-width="0.9"/>
<text x="407.80" y="291.60" class="tk" style="fill:#DF5518">200</text>
<line x1="399.90" y1="275.50" x2="402.50" y2="275.50" stroke="#DF5518" stroke-width="0.9"/>
<text x="407.80" y="280.20" class="tk" style="fill:#DF5518">250</text>
<line x1="399.90" y1="264.10" x2="402.50" y2="264.10" stroke="#DF5518" stroke-width="0.9"/>
<text x="407.80" y="268.80" class="tk" style="fill:#DF5518">300</text>
<path d="M84.82,285.60 L99.14,331.00 L106.57,319.60 L114.67,303.00 L119.13,296.60 L125.93,307.00 L131.19,308.00 L143.06,299.60 L155.65,317.00 L159.45,309.20 L170.68,305.00 L174.61,287.30 L181.67,289.60 L188.63,314.00 L195.30,314.40 L201.96,287.60 L211.42,314.40 L213.09,304.40 L241.21,315.00 L271.13,304.00 L290.45,292.00 L295.85,293.40 L333.47,309.60 L352.16,309.00 L356.56,317.10 L362.95,308.60 L370.78,316.00 L380.34,310.00 L393.87,313.60 L396.77,313.60" fill="none" stroke="#000000" stroke-width="1.3" stroke-linejoin="round"/>
<circle cx="84.82" cy="285.60" r="1.5" fill="none" stroke="#000000" stroke-width="1.6"/>
<circle cx="99.14" cy="331.00" r="1.5" fill="#000000" stroke="#000000" stroke-width="1.6"/>
<circle cx="106.57" cy="319.60" r="1.5" fill="#000000" stroke="#000000" stroke-width="1.6"/>
<circle cx="114.67" cy="303.00" r="1.5" fill="#000000" stroke="#000000" stroke-width="1.6"/>
<circle cx="119.13" cy="296.60" r="1.5" fill="#000000" stroke="#000000" stroke-width="1.6"/>
<circle cx="125.93" cy="307.00" r="1.5" fill="#000000" stroke="#000000" stroke-width="1.6"/>
<circle cx="131.19" cy="308.00" r="1.5" fill="#000000" stroke="#000000" stroke-width="1.6"/>
<circle cx="143.06" cy="299.60" r="1.5" fill="#000000" stroke="#000000" stroke-width="1.6"/>
<circle cx="155.65" cy="317.00" r="1.5" fill="#000000" stroke="#000000" stroke-width="1.6"/>
<circle cx="159.45" cy="309.20" r="1.5" fill="#000000" stroke="#000000" stroke-width="1.6"/>
<circle cx="170.68" cy="305.00" r="1.5" fill="#000000" stroke="#000000" stroke-width="1.6"/>
<circle cx="174.61" cy="287.30" r="1.5" fill="#000000" stroke="#000000" stroke-width="1.6"/>
<circle cx="181.67" cy="289.60" r="1.5" fill="#000000" stroke="#000000" stroke-width="1.6"/>
<circle cx="188.63" cy="314.00" r="1.5" fill="#000000" stroke="#000000" stroke-width="1.6"/>
<circle cx="195.30" cy="314.40" r="1.5" fill="#000000" stroke="#000000" stroke-width="1.6"/>
<circle cx="201.96" cy="287.60" r="1.5" fill="#000000" stroke="#000000" stroke-width="1.6"/>
<circle cx="211.42" cy="314.40" r="1.5" fill="#000000" stroke="#000000" stroke-width="1.6"/>
<circle cx="213.09" cy="304.40" r="1.5" fill="#000000" stroke="#000000" stroke-width="1.6"/>
<circle cx="241.21" cy="315.00" r="1.5" fill="#000000" stroke="#000000" stroke-width="1.6"/>
<circle cx="271.13" cy="304.00" r="1.5" fill="#000000" stroke="#000000" stroke-width="1.6"/>
<circle cx="290.45" cy="292.00" r="1.5" fill="#000000" stroke="#000000" stroke-width="1.6"/>
<circle cx="295.85" cy="293.40" r="1.5" fill="#000000" stroke="#000000" stroke-width="1.6"/>
<circle cx="333.47" cy="309.60" r="1.5" fill="#000000" stroke="#000000" stroke-width="1.6"/>
<circle cx="352.16" cy="309.00" r="1.5" fill="#000000" stroke="#000000" stroke-width="1.6"/>
<circle cx="356.56" cy="317.10" r="1.5" fill="#000000" stroke="#000000" stroke-width="1.6"/>
<circle cx="362.95" cy="308.60" r="1.5" fill="#000000" stroke="#000000" stroke-width="1.6"/>
<circle cx="370.78" cy="316.00" r="1.5" fill="#000000" stroke="#000000" stroke-width="1.6"/>
<circle cx="380.34" cy="310.00" r="1.5" fill="#000000" stroke="#000000" stroke-width="1.6"/>
<circle cx="393.87" cy="313.60" r="1.5" fill="#000000" stroke="#000000" stroke-width="1.6"/>
<circle cx="396.77" cy="313.60" r="1.5" fill="none" stroke="#000000" stroke-width="1.6"/>
<path d="M84.82,283.60 L99.14,314.40 L106.57,328.40 L114.67,279.00 L119.13,311.40 L125.93,297.40 L131.19,300.00 L143.06,278.00 L155.65,285.40 L159.45,309.30 L170.68,275.50 L174.61,307.70 L181.67,313.80 L188.63,317.00 L195.30,318.60 L201.96,306.40 L211.42,274.60 L213.09,321.00 L241.21,298.00 L271.13,274.60 L290.45,296.40 L295.85,275.00 L333.47,318.60 L352.16,321.20 L356.56,305.30 L362.95,321.20 L370.78,311.70 L380.34,317.90 L393.87,320.60 L396.77,321.60" fill="none" stroke="#DF5518" stroke-width="1.3" stroke-linejoin="round"/>
<circle cx="84.82" cy="283.60" r="1.5" fill="none" stroke="#DF5518" stroke-width="1.55"/>
<circle cx="99.14" cy="314.40" r="1.5" fill="#DF5518" stroke="#DF5518" stroke-width="1.55"/>
<circle cx="106.57" cy="328.40" r="1.5" fill="#DF5518" stroke="#DF5518" stroke-width="1.55"/>
<circle cx="114.67" cy="279.00" r="1.5" fill="#DF5518" stroke="#DF5518" stroke-width="1.55"/>
<circle cx="119.13" cy="311.40" r="1.5" fill="#DF5518" stroke="#DF5518" stroke-width="1.55"/>
<circle cx="125.93" cy="297.40" r="1.5" fill="#DF5518" stroke="#DF5518" stroke-width="1.55"/>
<circle cx="131.19" cy="300.00" r="1.5" fill="#DF5518" stroke="#DF5518" stroke-width="1.55"/>
<circle cx="143.06" cy="278.00" r="1.5" fill="#DF5518" stroke="#DF5518" stroke-width="1.55"/>
<circle cx="155.65" cy="285.40" r="1.5" fill="#DF5518" stroke="#DF5518" stroke-width="1.55"/>
<circle cx="159.45" cy="309.30" r="1.5" fill="#DF5518" stroke="#DF5518" stroke-width="1.55"/>
<circle cx="170.68" cy="275.50" r="1.5" fill="#DF5518" stroke="#DF5518" stroke-width="1.55"/>
<circle cx="174.61" cy="307.70" r="1.5" fill="#DF5518" stroke="#DF5518" stroke-width="1.55"/>
<circle cx="181.67" cy="313.80" r="1.5" fill="#DF5518" stroke="#DF5518" stroke-width="1.55"/>
<circle cx="188.63" cy="317.00" r="1.5" fill="#DF5518" stroke="#DF5518" stroke-width="1.55"/>
<circle cx="195.30" cy="318.60" r="1.5" fill="#DF5518" stroke="#DF5518" stroke-width="1.55"/>
<circle cx="201.96" cy="306.40" r="1.5" fill="#DF5518" stroke="#DF5518" stroke-width="1.55"/>
<circle cx="211.42" cy="274.60" r="1.5" fill="#DF5518" stroke="#DF5518" stroke-width="1.55"/>
<circle cx="213.09" cy="321.00" r="1.5" fill="#DF5518" stroke="#DF5518" stroke-width="1.55"/>
<circle cx="241.21" cy="298.00" r="1.5" fill="#DF5518" stroke="#DF5518" stroke-width="1.55"/>
<circle cx="271.13" cy="274.60" r="1.5" fill="#DF5518" stroke="#DF5518" stroke-width="1.55"/>
<circle cx="290.45" cy="296.40" r="1.5" fill="#DF5518" stroke="#DF5518" stroke-width="1.55"/>
<circle cx="295.85" cy="275.00" r="1.5" fill="#DF5518" stroke="#DF5518" stroke-width="1.55"/>
<circle cx="333.47" cy="318.60" r="1.5" fill="#DF5518" stroke="#DF5518" stroke-width="1.55"/>
<circle cx="352.16" cy="321.20" r="1.5" fill="#DF5518" stroke="#DF5518" stroke-width="1.55"/>
<circle cx="356.56" cy="305.30" r="1.5" fill="#DF5518" stroke="#DF5518" stroke-width="1.55"/>
<circle cx="362.95" cy="321.20" r="1.5" fill="#DF5518" stroke="#DF5518" stroke-width="1.55"/>
<circle cx="370.78" cy="311.70" r="1.5" fill="#DF5518" stroke="#DF5518" stroke-width="1.55"/>
<circle cx="380.34" cy="317.90" r="1.5" fill="#DF5518" stroke="#DF5518" stroke-width="1.55"/>
<circle cx="393.87" cy="320.60" r="1.5" fill="#DF5518" stroke="#DF5518" stroke-width="1.55"/>
<circle cx="396.77" cy="321.60" r="1.5" fill="none" stroke="#DF5518" stroke-width="1.55"/>
<text x="106.6" y="253.8" class="ti " transform="matrix(1,0,0,0.93,0,17.766)">Area and brightness of the arc on slag</text>
<text class="yl" transform="translate(25.9,322.0) rotate(-90)">A (cm<tspan class="sup2" style="font-size:11.5px" dy="-7.4">2</tspan><tspan dy="7.4">)</tspan></text>
<text class="yl" style="fill:#DF5518" transform="translate(440.8,331.4) rotate(-90) scale(1,0.95)">B (0 - 255)</text>
<line x1="47.70" y1="437.20" x2="402.20" y2="437.20" stroke="#c4c4c4" stroke-width="1"/>
<line x1="47.70" y1="425.70" x2="402.20" y2="425.70" stroke="#c4c4c4" stroke-width="1"/>
<line x1="47.70" y1="414.30" x2="402.20" y2="414.30" stroke="#c4c4c4" stroke-width="1"/>
<line x1="47.70" y1="402.70" x2="402.20" y2="402.70" stroke="#c4c4c4" stroke-width="1"/>
<line x1="47.70" y1="391.20" x2="402.20" y2="391.20" stroke="#c4c4c4" stroke-width="1"/>
<line x1="47.70" y1="380.00" x2="402.20" y2="380.00" stroke="#c4c4c4" stroke-width="1"/>
<line x1="47.70" y1="448.30" x2="402.20" y2="448.30" stroke="#555555" stroke-width="0.9"/>
<line x1="47.70" y1="448.30" x2="47.70" y2="380.00" stroke="#555555" stroke-width="0.9"/>
<line x1="47.70" y1="448.30" x2="47.70" y2="445.70" stroke="#555555" stroke-width="0.9"/>
<text x="47.70" y="463.60" class="tk" text-anchor="middle">0</text>
<line x1="74.69" y1="448.30" x2="74.69" y2="445.70" stroke="#555555" stroke-width="0.9"/>
<text x="74.69" y="463.60" class="tk" text-anchor="middle">2</text>
<line x1="101.98" y1="448.30" x2="101.98" y2="445.70" stroke="#555555" stroke-width="0.9"/>
<text x="101.98" y="463.60" class="tk" text-anchor="middle">4</text>
<line x1="129.28" y1="448.30" x2="129.28" y2="445.70" stroke="#555555" stroke-width="0.9"/>
<text x="129.28" y="463.60" class="tk" text-anchor="middle">6</text>
<line x1="156.57" y1="448.30" x2="156.57" y2="445.70" stroke="#555555" stroke-width="0.9"/>
<text x="156.57" y="463.60" class="tk" text-anchor="middle">8</text>
<line x1="183.86" y1="448.30" x2="183.86" y2="445.70" stroke="#555555" stroke-width="0.9"/>
<text x="183.86" y="463.60" class="tk" text-anchor="middle">10</text>
<line x1="211.15" y1="448.30" x2="211.15" y2="445.70" stroke="#555555" stroke-width="0.9"/>
<text x="211.15" y="463.60" class="tk" text-anchor="middle">12</text>
<line x1="238.45" y1="448.30" x2="238.45" y2="445.70" stroke="#555555" stroke-width="0.9"/>
<text x="238.45" y="463.60" class="tk" text-anchor="middle">14</text>
<line x1="265.74" y1="448.30" x2="265.74" y2="445.70" stroke="#555555" stroke-width="0.9"/>
<text x="265.74" y="463.60" class="tk" text-anchor="middle">16</text>
<line x1="293.03" y1="448.30" x2="293.03" y2="445.70" stroke="#555555" stroke-width="0.9"/>
<text x="293.03" y="463.60" class="tk" text-anchor="middle">18</text>
<line x1="320.32" y1="448.30" x2="320.32" y2="445.70" stroke="#555555" stroke-width="0.9"/>
<text x="320.32" y="463.60" class="tk" text-anchor="middle">20</text>
<line x1="347.62" y1="448.30" x2="347.62" y2="445.70" stroke="#555555" stroke-width="0.9"/>
<text x="347.62" y="463.60" class="tk" text-anchor="middle">22</text>
<line x1="374.91" y1="448.30" x2="374.91" y2="445.70" stroke="#555555" stroke-width="0.9"/>
<text x="374.91" y="463.60" class="tk" text-anchor="middle">24</text>
<line x1="402.20" y1="448.30" x2="402.20" y2="445.70" stroke="#555555" stroke-width="0.9"/>
<text x="402.20" y="463.60" class="tk" text-anchor="middle">26</text>
<line x1="47.70" y1="448.30" x2="50.30" y2="448.30" stroke="#555555" stroke-width="0.9"/>
<line x1="47.70" y1="437.20" x2="50.30" y2="437.20" stroke="#555555" stroke-width="0.9"/>
<line x1="47.70" y1="425.70" x2="50.30" y2="425.70" stroke="#555555" stroke-width="0.9"/>
<line x1="47.70" y1="414.30" x2="50.30" y2="414.30" stroke="#555555" stroke-width="0.9"/>
<line x1="47.70" y1="402.70" x2="50.30" y2="402.70" stroke="#555555" stroke-width="0.9"/>
<line x1="47.70" y1="391.20" x2="50.30" y2="391.20" stroke="#555555" stroke-width="0.9"/>
<line x1="47.70" y1="380.00" x2="50.30" y2="380.00" stroke="#555555" stroke-width="0.9"/>
<text x="42.70" y="453.00" class="tk" text-anchor="end">0</text>
<text x="42.70" y="441.90" class="tk" text-anchor="end">100</text>
<text x="42.70" y="430.40" class="tk" text-anchor="end">200</text>
<text x="42.70" y="419.00" class="tk" text-anchor="end">300</text>
<text x="42.70" y="407.40" class="tk" text-anchor="end">400</text>
<text x="42.70" y="395.90" class="tk" text-anchor="end">500</text>
<text x="42.70" y="384.70" class="tk" text-anchor="end">600</text>
<path d="M84.07,419.40 L98.41,422.00 L105.85,417.60 L113.96,412.00 L118.43,418.40 L125.24,418.40 L130.51,417.00 L142.39,415.60 L155.00,419.40 L158.80,413.30 L170.05,407.60 L173.99,412.40 L181.06,408.00 L188.03,401.00 L194.70,400.00 L201.38,401.00 L210.85,398.60 L212.52,404.40 L240.68,419.40 L270.64,393.00 L289.99,400.00 L295.40,402.60 L333.07,389.40 L351.79,390.60 L356.19,403.60 L362.60,390.40 L370.44,400.40 L380.01,395.00 L393.56,392.40 L396.46,391.00" fill="none" stroke="#000000" stroke-width="1.3" stroke-linejoin="round"/>
<circle cx="84.07" cy="419.40" r="1.5" fill="none" stroke="#000000" stroke-width="1.6"/>
<circle cx="98.41" cy="422.00" r="1.5" fill="#000000" stroke="#000000" stroke-width="1.6"/>
<circle cx="105.85" cy="417.60" r="1.5" fill="#000000" stroke="#000000" stroke-width="1.6"/>
<circle cx="113.96" cy="412.00" r="1.5" fill="#000000" stroke="#000000" stroke-width="1.6"/>
<circle cx="118.43" cy="418.40" r="1.5" fill="#000000" stroke="#000000" stroke-width="1.6"/>
<circle cx="125.24" cy="418.40" r="1.5" fill="#000000" stroke="#000000" stroke-width="1.6"/>
<circle cx="130.51" cy="417.00" r="1.5" fill="#000000" stroke="#000000" stroke-width="1.6"/>
<circle cx="142.39" cy="415.60" r="1.5" fill="#000000" stroke="#000000" stroke-width="1.6"/>
<circle cx="155.00" cy="419.40" r="1.5" fill="#000000" stroke="#000000" stroke-width="1.6"/>
<circle cx="158.80" cy="413.30" r="1.5" fill="#000000" stroke="#000000" stroke-width="1.6"/>
<circle cx="170.05" cy="407.60" r="1.5" fill="#000000" stroke="#000000" stroke-width="1.6"/>
<circle cx="173.99" cy="412.40" r="1.5" fill="#000000" stroke="#000000" stroke-width="1.6"/>
<circle cx="181.06" cy="408.00" r="1.5" fill="#000000" stroke="#000000" stroke-width="1.6"/>
<circle cx="188.03" cy="401.00" r="1.5" fill="#000000" stroke="#000000" stroke-width="1.6"/>
<circle cx="194.70" cy="400.00" r="1.5" fill="#000000" stroke="#000000" stroke-width="1.6"/>
<circle cx="201.38" cy="401.00" r="1.5" fill="#000000" stroke="#000000" stroke-width="1.6"/>
<circle cx="210.85" cy="398.60" r="1.5" fill="#000000" stroke="#000000" stroke-width="1.6"/>
<circle cx="212.52" cy="404.40" r="1.5" fill="#000000" stroke="#000000" stroke-width="1.6"/>
<circle cx="240.68" cy="419.40" r="1.5" fill="#000000" stroke="#000000" stroke-width="1.6"/>
<circle cx="270.64" cy="393.00" r="1.5" fill="#000000" stroke="#000000" stroke-width="1.6"/>
<circle cx="289.99" cy="400.00" r="1.5" fill="#000000" stroke="#000000" stroke-width="1.6"/>
<circle cx="295.40" cy="402.60" r="1.5" fill="#000000" stroke="#000000" stroke-width="1.6"/>
<circle cx="333.07" cy="389.40" r="1.5" fill="#000000" stroke="#000000" stroke-width="1.6"/>
<circle cx="351.79" cy="390.60" r="1.5" fill="#000000" stroke="#000000" stroke-width="1.6"/>
<circle cx="356.19" cy="403.60" r="1.5" fill="#000000" stroke="#000000" stroke-width="1.6"/>
<circle cx="362.60" cy="390.40" r="1.5" fill="#000000" stroke="#000000" stroke-width="1.6"/>
<circle cx="370.44" cy="400.40" r="1.5" fill="#000000" stroke="#000000" stroke-width="1.6"/>
<circle cx="380.01" cy="395.00" r="1.5" fill="#000000" stroke="#000000" stroke-width="1.6"/>
<circle cx="393.56" cy="392.40" r="1.5" fill="#000000" stroke="#000000" stroke-width="1.6"/>
<circle cx="396.46" cy="391.00" r="1.5" fill="none" stroke="#000000" stroke-width="1.6"/>
<path d="M84.07,427.60 L98.41,417.40 L105.85,433.60 L113.96,425.00 L118.43,423.60 L125.24,423.60 L130.51,422.00 L142.39,432.60 L155.00,427.60 L158.80,420.00 L170.05,426.40 L173.99,421.00 L181.06,418.60 L188.03,416.60 L194.70,418.00 L201.38,419.40 L210.85,425.60 L212.52,417.00 L240.68,428.40 L270.64,422.60 L289.99,427.40 L295.40,427.00 L333.07,418.40 L351.79,420.40 L356.19,418.00 L362.60,418.60 L370.44,418.40 L380.01,418.40 L393.56,419.60 L396.46,418.60" fill="none" stroke="#DF5518" stroke-width="1.3" stroke-linejoin="round"/>
<circle cx="84.07" cy="427.60" r="1.5" fill="none" stroke="#DF5518" stroke-width="1.55"/>
<circle cx="98.41" cy="417.40" r="1.5" fill="#DF5518" stroke="#DF5518" stroke-width="1.55"/>
<circle cx="105.85" cy="433.60" r="1.5" fill="#DF5518" stroke="#DF5518" stroke-width="1.55"/>
<circle cx="113.96" cy="425.00" r="1.5" fill="#DF5518" stroke="#DF5518" stroke-width="1.55"/>
<circle cx="118.43" cy="423.60" r="1.5" fill="#DF5518" stroke="#DF5518" stroke-width="1.55"/>
<circle cx="125.24" cy="423.60" r="1.5" fill="#DF5518" stroke="#DF5518" stroke-width="1.55"/>
<circle cx="130.51" cy="422.00" r="1.5" fill="#DF5518" stroke="#DF5518" stroke-width="1.55"/>
<circle cx="142.39" cy="432.60" r="1.5" fill="#DF5518" stroke="#DF5518" stroke-width="1.55"/>
<circle cx="155.00" cy="427.60" r="1.5" fill="#DF5518" stroke="#DF5518" stroke-width="1.55"/>
<circle cx="158.80" cy="420.00" r="1.5" fill="#DF5518" stroke="#DF5518" stroke-width="1.55"/>
<circle cx="170.05" cy="426.40" r="1.5" fill="#DF5518" stroke="#DF5518" stroke-width="1.55"/>
<circle cx="173.99" cy="421.00" r="1.5" fill="#DF5518" stroke="#DF5518" stroke-width="1.55"/>
<circle cx="181.06" cy="418.60" r="1.5" fill="#DF5518" stroke="#DF5518" stroke-width="1.55"/>
<circle cx="188.03" cy="416.60" r="1.5" fill="#DF5518" stroke="#DF5518" stroke-width="1.55"/>
<circle cx="194.70" cy="418.00" r="1.5" fill="#DF5518" stroke="#DF5518" stroke-width="1.55"/>
<circle cx="201.38" cy="419.40" r="1.5" fill="#DF5518" stroke="#DF5518" stroke-width="1.55"/>
<circle cx="210.85" cy="425.60" r="1.5" fill="#DF5518" stroke="#DF5518" stroke-width="1.55"/>
<circle cx="212.52" cy="417.00" r="1.5" fill="#DF5518" stroke="#DF5518" stroke-width="1.55"/>
<circle cx="240.68" cy="428.40" r="1.5" fill="#DF5518" stroke="#DF5518" stroke-width="1.55"/>
<circle cx="270.64" cy="422.60" r="1.5" fill="#DF5518" stroke="#DF5518" stroke-width="1.55"/>
<circle cx="289.99" cy="427.40" r="1.5" fill="#DF5518" stroke="#DF5518" stroke-width="1.55"/>
<circle cx="295.40" cy="427.00" r="1.5" fill="#DF5518" stroke="#DF5518" stroke-width="1.55"/>
<circle cx="333.07" cy="418.40" r="1.5" fill="#DF5518" stroke="#DF5518" stroke-width="1.55"/>
<circle cx="351.79" cy="420.40" r="1.5" fill="#DF5518" stroke="#DF5518" stroke-width="1.55"/>
<circle cx="356.19" cy="418.00" r="1.5" fill="#DF5518" stroke="#DF5518" stroke-width="1.55"/>
<circle cx="362.60" cy="418.60" r="1.5" fill="#DF5518" stroke="#DF5518" stroke-width="1.55"/>
<circle cx="370.44" cy="418.40" r="1.5" fill="#DF5518" stroke="#DF5518" stroke-width="1.55"/>
<circle cx="380.01" cy="418.40" r="1.5" fill="#DF5518" stroke="#DF5518" stroke-width="1.55"/>
<circle cx="393.56" cy="419.60" r="1.5" fill="#DF5518" stroke="#DF5518" stroke-width="1.55"/>
<circle cx="396.46" cy="418.60" r="1.5" fill="none" stroke="#DF5518" stroke-width="1.55"/>
<text x="145.4" y="373.6" class="ti " transform="matrix(1,0,0,0.93,0,26.152)">Position of the arc on slag</text>
<text class="yl" transform="translate(19.8,444.2) rotate(-90) scale(1,0.95)">X, <tspan style="fill:#DF5518">Y</tspan> (px)</text>
<line x1="47.60" y1="555.40" x2="402.20" y2="555.40" stroke="#c4c4c4" stroke-width="1"/>
<line x1="47.60" y1="541.70" x2="402.20" y2="541.70" stroke="#c4c4c4" stroke-width="1"/>
<line x1="47.60" y1="528.10" x2="402.20" y2="528.10" stroke="#c4c4c4" stroke-width="1"/>
<line x1="47.60" y1="514.40" x2="402.20" y2="514.40" stroke="#c4c4c4" stroke-width="1"/>
<line x1="47.60" y1="500.50" x2="402.20" y2="500.50" stroke="#c4c4c4" stroke-width="1"/>
<line x1="47.60" y1="568.90" x2="402.20" y2="568.90" stroke="#555555" stroke-width="0.9"/>
<line x1="47.60" y1="568.90" x2="47.60" y2="500.50" stroke="#555555" stroke-width="0.9"/>
<line x1="47.60" y1="568.90" x2="47.60" y2="566.30" stroke="#555555" stroke-width="0.9"/>
<text x="47.60" y="584.20" class="tk" text-anchor="middle">0</text>
<line x1="74.69" y1="568.90" x2="74.69" y2="566.30" stroke="#555555" stroke-width="0.9"/>
<text x="74.69" y="584.20" class="tk" text-anchor="middle">2</text>
<line x1="101.98" y1="568.90" x2="101.98" y2="566.30" stroke="#555555" stroke-width="0.9"/>
<text x="101.98" y="584.20" class="tk" text-anchor="middle">4</text>
<line x1="129.28" y1="568.90" x2="129.28" y2="566.30" stroke="#555555" stroke-width="0.9"/>
<text x="129.28" y="584.20" class="tk" text-anchor="middle">6</text>
<line x1="156.57" y1="568.90" x2="156.57" y2="566.30" stroke="#555555" stroke-width="0.9"/>
<text x="156.57" y="584.20" class="tk" text-anchor="middle">8</text>
<line x1="183.86" y1="568.90" x2="183.86" y2="566.30" stroke="#555555" stroke-width="0.9"/>
<text x="183.86" y="584.20" class="tk" text-anchor="middle">10</text>
<line x1="211.15" y1="568.90" x2="211.15" y2="566.30" stroke="#555555" stroke-width="0.9"/>
<text x="211.15" y="584.20" class="tk" text-anchor="middle">12</text>
<line x1="238.45" y1="568.90" x2="238.45" y2="566.30" stroke="#555555" stroke-width="0.9"/>
<text x="238.45" y="584.20" class="tk" text-anchor="middle">14</text>
<line x1="265.74" y1="568.90" x2="265.74" y2="566.30" stroke="#555555" stroke-width="0.9"/>
<text x="265.74" y="584.20" class="tk" text-anchor="middle">16</text>
<line x1="293.03" y1="568.90" x2="293.03" y2="566.30" stroke="#555555" stroke-width="0.9"/>
<text x="293.03" y="584.20" class="tk" text-anchor="middle">18</text>
<line x1="320.32" y1="568.90" x2="320.32" y2="566.30" stroke="#555555" stroke-width="0.9"/>
<text x="320.32" y="584.20" class="tk" text-anchor="middle">20</text>
<line x1="347.62" y1="568.90" x2="347.62" y2="566.30" stroke="#555555" stroke-width="0.9"/>
<text x="347.62" y="584.20" class="tk" text-anchor="middle">22</text>
<line x1="374.91" y1="568.90" x2="374.91" y2="566.30" stroke="#555555" stroke-width="0.9"/>
<text x="374.91" y="584.20" class="tk" text-anchor="middle">24</text>
<line x1="402.20" y1="568.90" x2="402.20" y2="566.30" stroke="#555555" stroke-width="0.9"/>
<text x="402.20" y="584.20" class="tk" text-anchor="middle">26</text>
<line x1="47.60" y1="568.90" x2="50.20" y2="568.90" stroke="#555555" stroke-width="0.9"/>
<line x1="47.60" y1="555.40" x2="50.20" y2="555.40" stroke="#555555" stroke-width="0.9"/>
<line x1="47.60" y1="541.70" x2="50.20" y2="541.70" stroke="#555555" stroke-width="0.9"/>
<line x1="47.60" y1="528.10" x2="50.20" y2="528.10" stroke="#555555" stroke-width="0.9"/>
<line x1="47.60" y1="514.40" x2="50.20" y2="514.40" stroke="#555555" stroke-width="0.9"/>
<line x1="47.60" y1="500.50" x2="50.20" y2="500.50" stroke="#555555" stroke-width="0.9"/>
<text x="42.60" y="573.60" class="tk" text-anchor="end">0</text>
<text x="42.60" y="560.10" class="tk" text-anchor="end">10</text>
<text x="42.60" y="546.40" class="tk" text-anchor="end">20</text>
<text x="42.60" y="532.80" class="tk" text-anchor="end">30</text>
<text x="42.60" y="519.10" class="tk" text-anchor="end">40</text>
<text x="42.60" y="505.20" class="tk" text-anchor="end">50</text>
<path d="M84.07,562.60 L98.41,565.40 L105.85,565.60 L113.96,564.40 L118.43,565.00 L125.24,565.00 L130.51,565.60 L142.39,564.40 L155.00,566.00 L158.80,566.00 L170.05,566.00 L173.99,566.00 L181.06,566.00 L188.03,562.60 L194.70,562.60 L201.38,566.00 L210.85,567.40 L212.52,566.00 L240.68,565.40 L270.64,567.40 L289.99,566.00 L295.40,565.40 L333.07,567.40 L351.79,567.00 L356.19,565.60 L362.60,565.60 L370.44,565.60 L380.01,565.60 L393.56,565.60 L396.46,565.60" fill="none" stroke="#000000" stroke-width="1.3" stroke-linejoin="round"/>
<circle cx="84.07" cy="562.60" r="1.5" fill="none" stroke="#000000" stroke-width="1.6"/>
<circle cx="98.41" cy="565.40" r="1.5" fill="#000000" stroke="#000000" stroke-width="1.6"/>
<circle cx="105.85" cy="565.60" r="1.5" fill="#000000" stroke="#000000" stroke-width="1.6"/>
<circle cx="113.96" cy="564.40" r="1.5" fill="#000000" stroke="#000000" stroke-width="1.6"/>
<circle cx="118.43" cy="565.00" r="1.5" fill="#000000" stroke="#000000" stroke-width="1.6"/>
<circle cx="125.24" cy="565.00" r="1.5" fill="#000000" stroke="#000000" stroke-width="1.6"/>
<circle cx="130.51" cy="565.60" r="1.5" fill="#000000" stroke="#000000" stroke-width="1.6"/>
<circle cx="142.39" cy="564.40" r="1.5" fill="#000000" stroke="#000000" stroke-width="1.6"/>
<circle cx="155.00" cy="566.00" r="1.5" fill="#000000" stroke="#000000" stroke-width="1.6"/>
<circle cx="158.80" cy="566.00" r="1.5" fill="#000000" stroke="#000000" stroke-width="1.6"/>
<circle cx="170.05" cy="566.00" r="1.5" fill="#000000" stroke="#000000" stroke-width="1.6"/>
<circle cx="173.99" cy="566.00" r="1.5" fill="#000000" stroke="#000000" stroke-width="1.6"/>
<circle cx="181.06" cy="566.00" r="1.5" fill="#000000" stroke="#000000" stroke-width="1.6"/>
<circle cx="188.03" cy="562.60" r="1.5" fill="#000000" stroke="#000000" stroke-width="1.6"/>
<circle cx="194.70" cy="562.60" r="1.5" fill="#000000" stroke="#000000" stroke-width="1.6"/>
<circle cx="201.38" cy="566.00" r="1.5" fill="#000000" stroke="#000000" stroke-width="1.6"/>
<circle cx="210.85" cy="567.40" r="1.5" fill="#000000" stroke="#000000" stroke-width="1.6"/>
<circle cx="212.52" cy="566.00" r="1.5" fill="#000000" stroke="#000000" stroke-width="1.6"/>
<circle cx="240.68" cy="565.40" r="1.5" fill="#000000" stroke="#000000" stroke-width="1.6"/>
<circle cx="270.64" cy="567.40" r="1.5" fill="#000000" stroke="#000000" stroke-width="1.6"/>
<circle cx="289.99" cy="566.00" r="1.5" fill="#000000" stroke="#000000" stroke-width="1.6"/>
<circle cx="295.40" cy="565.40" r="1.5" fill="#000000" stroke="#000000" stroke-width="1.6"/>
<circle cx="333.07" cy="567.40" r="1.5" fill="#000000" stroke="#000000" stroke-width="1.6"/>
<circle cx="351.79" cy="567.00" r="1.5" fill="#000000" stroke="#000000" stroke-width="1.6"/>
<circle cx="356.19" cy="565.60" r="1.5" fill="#000000" stroke="#000000" stroke-width="1.6"/>
<circle cx="362.60" cy="565.60" r="1.5" fill="#000000" stroke="#000000" stroke-width="1.6"/>
<circle cx="370.44" cy="565.60" r="1.5" fill="#000000" stroke="#000000" stroke-width="1.6"/>
<circle cx="380.01" cy="565.60" r="1.5" fill="#000000" stroke="#000000" stroke-width="1.6"/>
<circle cx="393.56" cy="565.60" r="1.5" fill="#000000" stroke="#000000" stroke-width="1.6"/>
<circle cx="396.46" cy="565.60" r="1.5" fill="none" stroke="#000000" stroke-width="1.6"/>
<path d="M84.07,539.60 L98.41,542.00 L105.85,542.40 L113.96,541.40 L118.43,542.00 L125.24,542.00 L130.51,538.60 L142.39,541.00 L155.00,543.40 L158.80,543.00 L170.05,543.40 L173.99,543.40 L181.06,543.40 L188.03,539.40 L194.70,539.40 L201.38,536.00 L210.85,531.00 L212.52,543.40 L240.68,543.00 L270.64,530.60 L289.99,536.00 L295.40,537.60 L333.07,530.60 L351.79,535.00 L356.19,543.40 L362.60,543.40 L370.44,543.40 L380.01,543.40 L393.56,543.40 L396.46,543.40" fill="none" stroke="#DF5518" stroke-width="1.3" stroke-linejoin="round"/>
<circle cx="84.07" cy="539.60" r="1.5" fill="none" stroke="#DF5518" stroke-width="1.55"/>
<circle cx="98.41" cy="542.00" r="1.5" fill="#DF5518" stroke="#DF5518" stroke-width="1.55"/>
<circle cx="105.85" cy="542.40" r="1.5" fill="#DF5518" stroke="#DF5518" stroke-width="1.55"/>
<circle cx="113.96" cy="541.40" r="1.5" fill="#DF5518" stroke="#DF5518" stroke-width="1.55"/>
<circle cx="118.43" cy="542.00" r="1.5" fill="#DF5518" stroke="#DF5518" stroke-width="1.55"/>
<circle cx="125.24" cy="542.00" r="1.5" fill="#DF5518" stroke="#DF5518" stroke-width="1.55"/>
<circle cx="130.51" cy="538.60" r="1.5" fill="#DF5518" stroke="#DF5518" stroke-width="1.55"/>
<circle cx="142.39" cy="541.00" r="1.5" fill="#DF5518" stroke="#DF5518" stroke-width="1.55"/>
<circle cx="155.00" cy="543.40" r="1.5" fill="#DF5518" stroke="#DF5518" stroke-width="1.55"/>
<circle cx="158.80" cy="543.00" r="1.5" fill="#DF5518" stroke="#DF5518" stroke-width="1.55"/>
<circle cx="170.05" cy="543.40" r="1.5" fill="#DF5518" stroke="#DF5518" stroke-width="1.55"/>
<circle cx="173.99" cy="543.40" r="1.5" fill="#DF5518" stroke="#DF5518" stroke-width="1.55"/>
<circle cx="181.06" cy="543.40" r="1.5" fill="#DF5518" stroke="#DF5518" stroke-width="1.55"/>
<circle cx="188.03" cy="539.40" r="1.5" fill="#DF5518" stroke="#DF5518" stroke-width="1.55"/>
<circle cx="194.70" cy="539.40" r="1.5" fill="#DF5518" stroke="#DF5518" stroke-width="1.55"/>
<circle cx="201.38" cy="536.00" r="1.5" fill="#DF5518" stroke="#DF5518" stroke-width="1.55"/>
<circle cx="210.85" cy="531.00" r="1.5" fill="#DF5518" stroke="#DF5518" stroke-width="1.55"/>
<circle cx="212.52" cy="543.40" r="1.5" fill="#DF5518" stroke="#DF5518" stroke-width="1.55"/>
<circle cx="240.68" cy="543.00" r="1.5" fill="#DF5518" stroke="#DF5518" stroke-width="1.55"/>
<circle cx="270.64" cy="530.60" r="1.5" fill="#DF5518" stroke="#DF5518" stroke-width="1.55"/>
<circle cx="289.99" cy="536.00" r="1.5" fill="#DF5518" stroke="#DF5518" stroke-width="1.55"/>
<circle cx="295.40" cy="537.60" r="1.5" fill="#DF5518" stroke="#DF5518" stroke-width="1.55"/>
<circle cx="333.07" cy="530.60" r="1.5" fill="#DF5518" stroke="#DF5518" stroke-width="1.55"/>
<circle cx="351.79" cy="535.00" r="1.5" fill="#DF5518" stroke="#DF5518" stroke-width="1.55"/>
<circle cx="356.19" cy="543.40" r="1.5" fill="#DF5518" stroke="#DF5518" stroke-width="1.55"/>
<circle cx="362.60" cy="543.40" r="1.5" fill="#DF5518" stroke="#DF5518" stroke-width="1.55"/>
<circle cx="370.44" cy="543.40" r="1.5" fill="#DF5518" stroke="#DF5518" stroke-width="1.55"/>
<circle cx="380.01" cy="543.40" r="1.5" fill="#DF5518" stroke="#DF5518" stroke-width="1.55"/>
<circle cx="393.56" cy="543.40" r="1.5" fill="#DF5518" stroke="#DF5518" stroke-width="1.55"/>
<circle cx="396.46" cy="543.40" r="1.5" fill="none" stroke="#DF5518" stroke-width="1.55"/>
<text x="139.8" y="491.4" class="ti " transform="matrix(1,0,0,0.93,0,34.398)">Slag composition Cr</text><text x="256.6" y="496.4" class="ti sub" transform="matrix(1,0,0,0.93,0,34.748)">2</text><text x="262.5" y="491.4" class="ti " transform="matrix(1,0,0,0.93,0,34.398)">O</text><text x="271.3" y="496.4" class="ti sub" transform="matrix(1,0,0,0.93,0,34.748)">3</text><text x="277.8" y="492.0" class="ti " transform="matrix(1,0,0,0.93,0,34.440)">,</text><text x="285.2" y="491.4" class="ti " style="fill:#DF5518" transform="matrix(1,0,0,0.93,0,34.398)">FeO</text>
<text class="yl" transform="translate(25.1,560.5) rotate(-90) scale(1,0.95)">Molar %</text>
<text x="157.0" y="601" class="yl" style="font-size:14px" transform="matrix(1,0,0,0.92,0,48.080)">Length of the arc (cm)</text>
</svg></body></html>
